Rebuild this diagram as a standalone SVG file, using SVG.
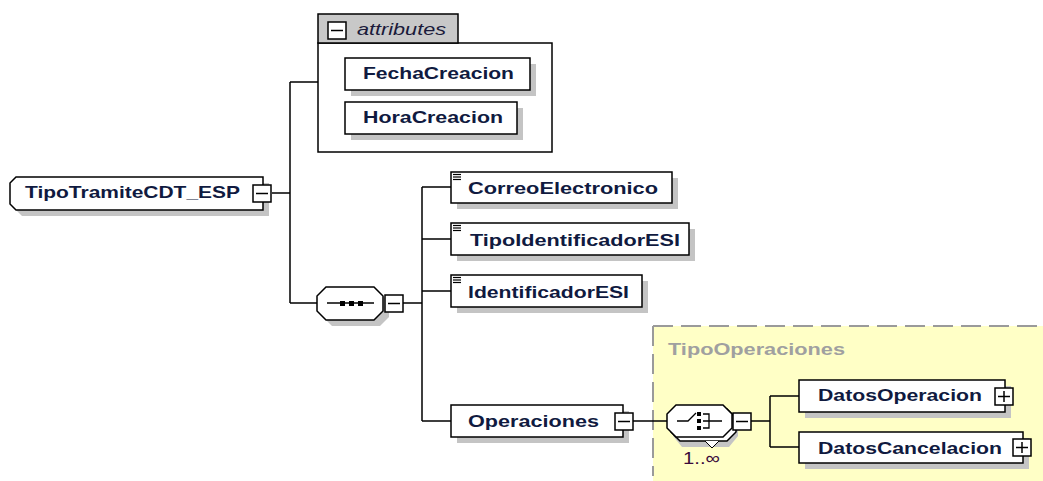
<svg xmlns="http://www.w3.org/2000/svg" width="1043" height="481" viewBox="0 0 1043 481">
<style>
.box{fill:#fff;stroke:#000;stroke-width:1.5}
.sh{fill:#c4c4c4}
.ln{stroke:#000;stroke-width:1.5;fill:none}
.t{font-family:"Liberation Sans",Arial,sans-serif;font-weight:bold;font-size:17px;fill:#101a40}
.ico{stroke:#000;stroke-width:1.2;fill:none}
</style>
<defs>
<g id="minus"><rect x="0" y="0" width="18" height="17" fill="#fff" stroke="#000" stroke-width="1.5"/><line x1="3" y1="8.5" x2="15" y2="8.5" stroke="#000" stroke-width="1.5"/></g>
<g id="plus"><rect x="0" y="0" width="18" height="17" fill="#fff" stroke="#000" stroke-width="1.5"/><line x1="3" y1="8.5" x2="15" y2="8.5" stroke="#000" stroke-width="1.5"/><line x1="9" y1="3" x2="9" y2="14" stroke="#000" stroke-width="1.5"/></g>
<g id="eq"><line x1="0" y1="0" x2="8" y2="0" class="ico"/><line x1="0" y1="2.5" x2="8" y2="2.5" class="ico"/><line x1="0" y1="5" x2="8" y2="5" class="ico"/></g>
</defs>

<rect x="653" y="326" width="400" height="170" fill="#ffffc6"/>
<path d="M653 326 H1043 M653 326 V476" stroke="#9a9a9a" stroke-width="2" stroke-dasharray="20 8" fill="none"/>
<text x="668" y="355" class="t" style="fill:#a0a0a0" textLength="177" lengthAdjust="spacingAndGlyphs">TipoOperaciones</text>

<g id="connectors">
<path class="ln" d="M272 193 H290 M290 82 V303 M290 82 H318 M290 303 H317"/>
<path class="ln" d="M403 303 H422 M422 187 V421 M422 187 H451 M422 239 H451 M422 291 H451 M422 421 H451"/>
<path class="ln" d="M633 421 H667 M750 421 H770 M770 396 V447 M770 396 H799 M770 447 H799"/>
</g>

<g id="root">
<polygon class="sh" points="22,183 269,183 269,216 22,216 16,210 16,189"/>
<polygon class="box" points="16,177 263,177 263,210 16,210 10,204 10,183"/>
<text x="25" y="198" class="t" textLength="215" lengthAdjust="spacingAndGlyphs">TipoTramiteCDT_ESP</text>
<use href="#minus" x="253" y="185"/>
</g>

<g id="attributes">
<rect x="318" y="43" width="234" height="109" fill="#fff" stroke="#000" stroke-width="1.5"/>
<rect x="318" y="14" width="140" height="29" fill="#c8c8c8" stroke="#000" stroke-width="1.5"/>
<use href="#minus" x="328" y="22"/>
<text x="357" y="35" style="font-family:'Liberation Sans',Arial,sans-serif;font-style:italic;font-size:17px;fill:#1a1a3a" textLength="89" lengthAdjust="spacingAndGlyphs">attributes</text>
</g>

<g id="FechaCreacion">
<rect class="sh" x="351" y="64" width="185" height="32"/>
<rect class="box" x="345" y="58" width="185" height="32"/>
<text x="363" y="79" class="t" textLength="151" lengthAdjust="spacingAndGlyphs">FechaCreacion</text>
</g>
<g id="HoraCreacion">
<rect class="sh" x="351" y="108" width="172" height="32"/>
<rect class="box" x="345" y="102" width="172" height="32"/>
<text x="363" y="123" class="t" textLength="140" lengthAdjust="spacingAndGlyphs">HoraCreacion</text>
</g>

<g id="sequence">
<polygon class="sh" points="332,293 380,293 389,302 389,317 380,326 332,326 323,317 323,302"/>
<polygon class="box" points="326,287 374,287 383,296 383,311 374,320 326,320 317,311 317,296"/>
<line x1="327" y1="303" x2="374" y2="303" stroke="#000" stroke-width="1.5"/>
<rect x="340" y="301" width="5" height="5" fill="#000"/>
<rect x="349" y="301" width="5" height="5" fill="#000"/>
<rect x="358" y="301" width="5" height="5" fill="#000"/>
<use href="#minus" x="385" y="295"/>
</g>

<g id="CorreoElectronico">
<rect class="sh" x="457" y="178" width="221" height="31"/>
<rect class="box" x="451" y="172" width="221" height="31"/>
<use href="#eq" x="453" y="174.5"/>
<text x="468" y="194" class="t" textLength="190" lengthAdjust="spacingAndGlyphs">CorreoElectronico</text>
</g>
<g id="TipoIdentificadorESI">
<rect class="sh" x="457" y="229" width="238" height="32"/>
<rect class="box" x="451" y="223" width="238" height="32"/>
<use href="#eq" x="453" y="225.5"/>
<text x="470" y="246" class="t" textLength="210" lengthAdjust="spacingAndGlyphs">TipoIdentificadorESI</text>
</g>
<g id="IdentificadorESI">
<rect class="sh" x="457" y="281" width="191" height="32"/>
<rect class="box" x="451" y="275" width="191" height="32"/>
<use href="#eq" x="453" y="277.5"/>
<text x="468" y="298" class="t" textLength="161" lengthAdjust="spacingAndGlyphs">IdentificadorESI</text>
</g>

<g id="Operaciones">
<rect class="sh" x="457" y="411" width="172" height="32"/>
<rect class="box" x="451" y="405" width="172" height="32"/>
<text x="468" y="427" class="t" textLength="131" lengthAdjust="spacingAndGlyphs">Operaciones</text>
<use href="#minus" x="615" y="413"/>
</g>

<g id="choice">
<polygon class="sh" points="682,413 729,413 738,422 738,436 729,447 682,447 673,436 673,422"/>
<polygon class="box" points="680,409 727,409 736,418 736,432 727,441 680,441 671,432 671,418"/>
<polyline points="705,441 712,448 719,441" fill="#fff" stroke="#000" stroke-width="1"/>
<polygon class="box" points="676,405 723,405 732,414 732,428 723,437 676,437 667,428 667,414"/>
<path d="M677 421 H688 L696 413" stroke="#000" stroke-width="1.3" fill="none"/>
<rect x="697" y="412" width="4" height="4" fill="#000"/>
<rect x="697" y="419" width="4" height="4" fill="#000"/>
<rect x="697" y="426" width="4" height="4" fill="#000"/>
<path d="M703 414 H709 V428 H703 M703 421 H722" stroke="#000" stroke-width="1.3" fill="none"/>
<use href="#minus" x="733" y="413"/>
<text x="683" y="464" style="font-family:'Liberation Sans',Arial,sans-serif;font-size:17px;fill:#3a0a3a" textLength="37" lengthAdjust="spacingAndGlyphs">1..∞</text>
</g>

<g id="DatosOperacion">
<rect class="sh" x="805" y="386" width="206" height="32"/>
<rect class="box" x="799" y="380" width="206" height="32"/>
<text x="818" y="401" class="t" textLength="164" lengthAdjust="spacingAndGlyphs">DatosOperacion</text>
<use href="#plus" x="995" y="388"/>
</g>
<g id="DatosCancelacion">
<rect class="sh" x="805" y="438" width="224" height="31"/>
<rect class="box" x="799" y="432" width="224" height="31"/>
<text x="818" y="454" class="t" textLength="184" lengthAdjust="spacingAndGlyphs">DatosCancelacion</text>
<use href="#plus" x="1013" y="439"/>
</g>
</svg>
